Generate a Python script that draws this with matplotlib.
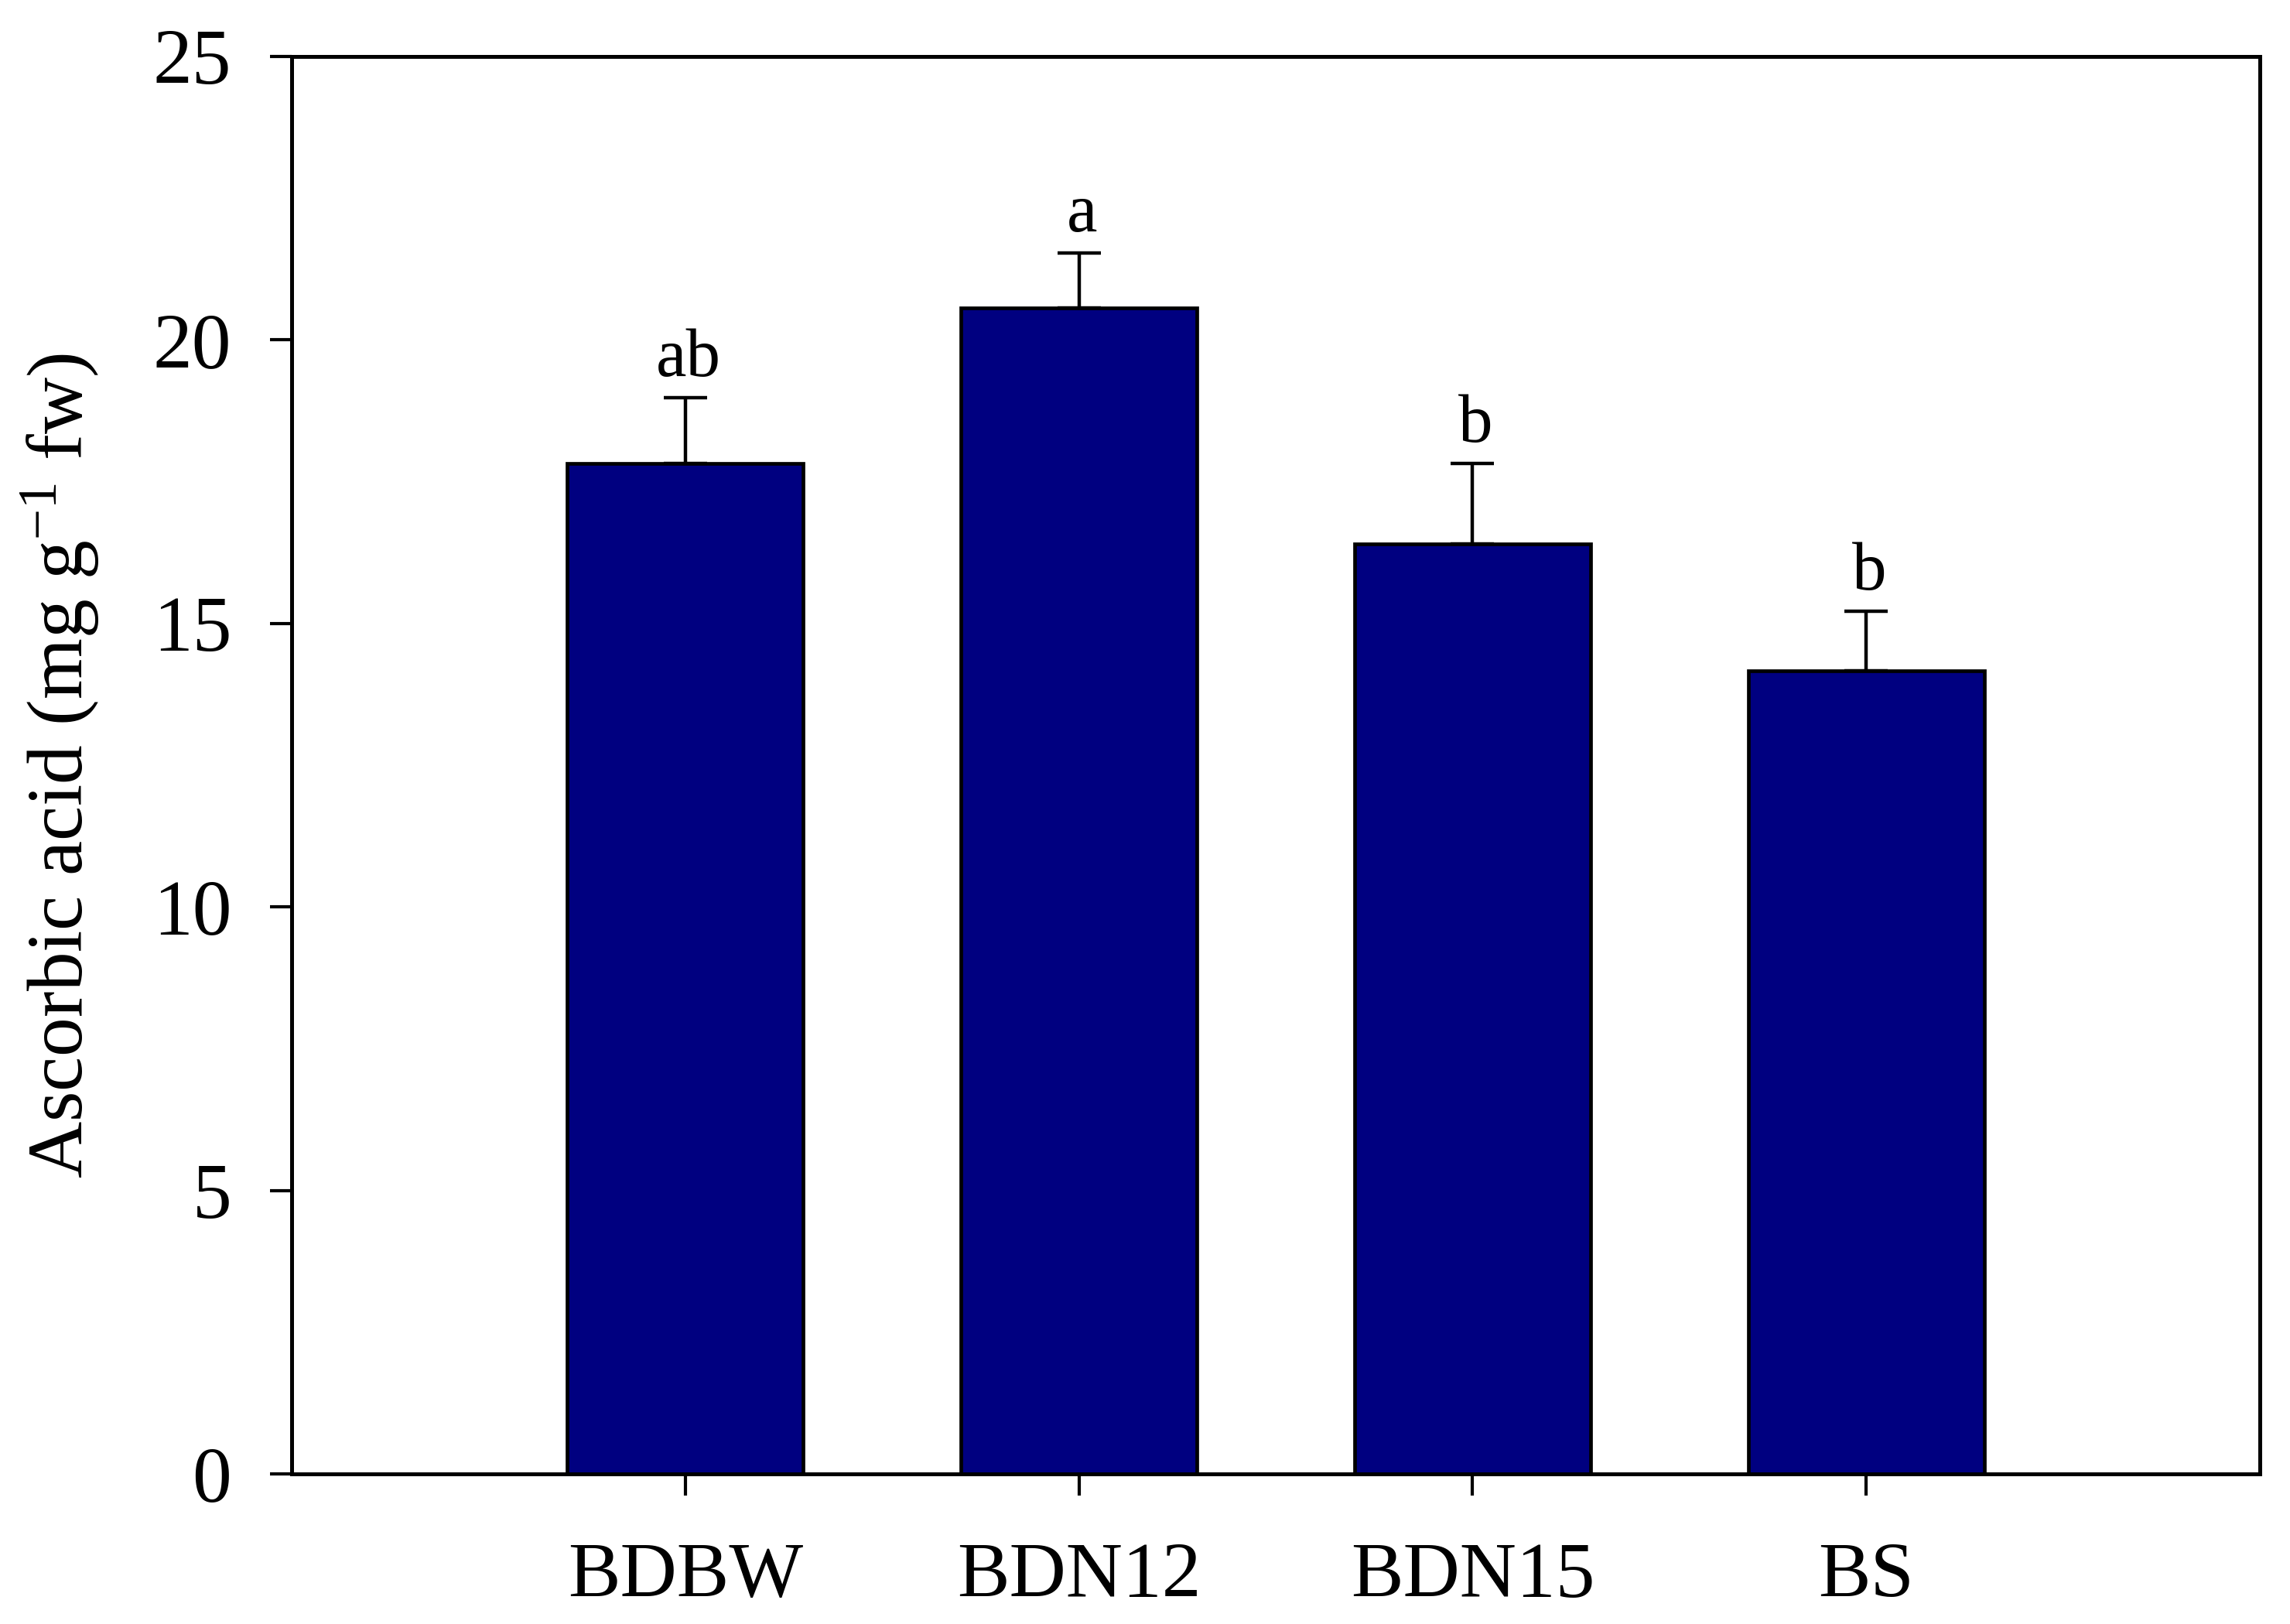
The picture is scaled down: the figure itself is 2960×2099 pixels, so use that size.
import matplotlib
matplotlib.use("Agg")
import matplotlib.pyplot as plt
import numpy as np

categories = ["BDBW", "BDN12", "BDN15", "BS"]
means = [17.82, 20.56, 16.40, 14.17]
errors = [1.16, 0.98, 1.42, 1.05]
letters = ["ab", "a", "b", "b"]
y_ticks = [0, 5, 10, 15, 20, 25]

plt.rcParams['font.family'] = ['Liberation Serif', 'DejaVu Serif']
plt.rcParams['mathtext.fontset'] = 'custom'
plt.rcParams['mathtext.rm'] = 'Liberation Serif'
plt.rcParams['mathtext.it'] = 'Liberation Serif:italic'

fig = plt.figure(figsize=(29.6, 20.99), dpi=100)
ax = fig.add_axes([377/2960, 1 - 1905/2099, (2921-377)/2960, (1905-73)/2099])

x = np.arange(1, len(categories) + 1)
ax.bar(x, means, width=0.6, color='#000080', edgecolor='black', linewidth=3.4, zorder=2)
ax.errorbar(x, means, yerr=[np.zeros(len(errors)), errors], fmt='none',
            ecolor='black', elinewidth=3.2, capsize=20, capthick=3.2, zorder=3)

for xi, m, e, lab in zip(x, means, errors, letters):
    ax.annotate(lab, (xi, m + e), xytext=(3, 20), textcoords='offset points',
                ha='center', va='baseline', fontsize=64)

ax.set_xlim(0, 5)
ax.set_ylim(0, 25)
ax.set_xticks(x)
ax.set_xticklabels(categories)
ax.set_yticks(y_ticks)
ax.set_yticklabels([str(t) for t in y_ticks])

for s in ax.spines.values():
    s.set_linewidth(3.6)

ax.tick_params(axis='both', direction='out', length=20, width=3.0, labelsize=73)
ax.tick_params(axis='y', pad=36)
ax.tick_params(axis='x', pad=44)

ax.set_ylabel(r"Ascorbic acid (mg g$^{-1}$ fw)", fontsize=73, labelpad=48)

fig.savefig("out.png", dpi=100, facecolor='white')
